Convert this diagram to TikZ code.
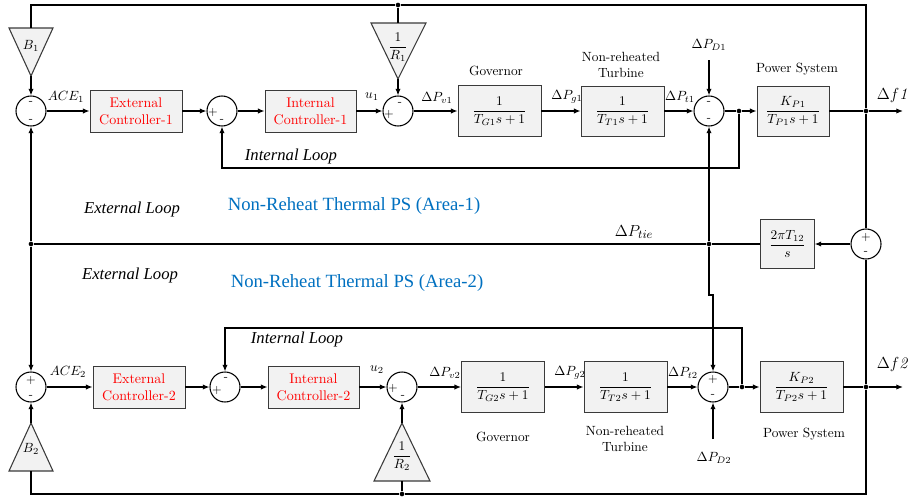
\documentclass[tikz,border=0pt]{standalone}
\usepackage{fontspec}
\newfontfamily\timesfont{Liberation Serif}
\usepackage{tikz}
\usetikzlibrary{arrows.meta,positioning}
\definecolor{lfcblue}{HTML}{0070C0}
\definecolor{lfcred}{HTML}{FF0000}
\definecolor{lfcfill}{HTML}{F2F2F2}
\definecolor{lfcline}{HTML}{3A3A3A}

\begin{document}
\begin{tikzpicture}[
  x=0.75pt,y=-0.75pt,
  blk/.style={draw=lfcline,fill=lfcfill,line width=0.6pt,minimum width=62.25pt,minimum height=38pt,inner sep=1pt},
  ctrl/.style={blk,minimum width=69pt,minimum height=31.5pt,text=lfcred,align=center,font=\fontsize{10.5}{12.5}\selectfont},
  sumj/.style={draw,circle,minimum size=22.5pt,inner sep=0pt,line width=0.8pt},
  sgn/.style={font=\sffamily\small,inner sep=0pt},
  sig/.style={inner sep=1pt},
  captxt/.style={align=center,font=\fontsize{10}{12.5}\selectfont},
  looplab/.style={font=\timesfont\itshape\fontsize{12.5}{14}\selectfont},
  arealab/.style={font=\timesfont\fontsize{14}{16}\selectfont,text=lfcblue},
  wire/.style={line width=0.9pt},
  arrow/.style={wire,-{Latex[length=5pt,width=4pt]}},
  jdot/.style={circle,fill,inner sep=0pt,minimum size=3.5pt},
  tri/.style={draw=lfcline,fill=lfcfill,line width=0.8pt}
]
  \useasboundingbox (0,0) rectangle (909,497);

  % area 1
  \node[sumj] (sum1) at (31,111) {};
  \node[ctrl] (ext1) at (136,111) {External\\Controller-1};
  \node[sumj] (sum2) at (222,111) {};
  \node[ctrl,minimum width=68.25pt] (int1) at (310.5,111) {Internal\\Controller-1};
  \node[sumj] (sum3) at (398,111) {};
  \node[blk] (gov1) at (499.5,111) {$\displaystyle\frac{1}{T_{G1}s+1}$};
  \node[blk,minimum height=37.5pt] (turb1) at (622.5,111) {$\displaystyle\frac{1}{T_{T1}s+1}$};
  \node[sumj] (sum4) at (709,111) {};
  \node[jdot] (j1) at (739,111) {};
  \node[blk,minimum width=54pt,minimum height=37.5pt] (plant1) at (793,111) {$\displaystyle\frac{K_{P1}}{T_{P1}s+1}$};
  \node[jdot] (jf1) at (866,111) {};
  \coordinate (out1) at (903,111);
  \node[jdot] (jtop) at (398,5) {};

  % area 2
  \node[sumj] (sum7) at (31,387) {};
  \node[ctrl] (ext2) at (139,387) {External\\Controller-2};
  \node[sumj] (sum8) at (225,387) {};
  \node[ctrl,minimum width=68.25pt] (int2) at (313.5,387) {Internal\\Controller-2};
  \node[sumj] (sum9) at (402,387) {};
  \node[blk] (gov2) at (503,387) {$\displaystyle\frac{1}{T_{G2}s+1}$};
  \node[blk] (turb2) at (625.5,387) {$\displaystyle\frac{1}{T_{T2}s+1}$};
  \node[sumj] (sum6) at (713,387) {};
  \node[jdot] (j2) at (742,387) {};
  \node[blk] (plant2) at (801.5,387) {$\displaystyle\frac{K_{P2}}{T_{P2}s+1}$};
  \node[jdot] (jf2) at (866,387) {};
  \coordinate (out2) at (903,387);
  \node[jdot] (jbot) at (402,494) {};

  % tie line
  \node[sumj] (sum5) at (866,244) {};
  \node[blk,minimum width=40pt,minimum height=36.75pt] (tie) at (787.5,244) {$\displaystyle\frac{2\pi T_{12}}{s}$};
  \node[jdot] (jt1) at (709,244) {};
  \node[jdot] (jt2) at (31,244) {};

  % gain triangles
  \coordinate (b1base) at (31,28);  \coordinate (b1tip) at (31,76);
  \coordinate (r1base) at (398,23); \coordinate (r1tip) at (398,79);
  \coordinate (b2base) at (31,471); \coordinate (b2tip) at (31,423);
  \coordinate (r2base) at (402,481); \coordinate (r2tip) at (402,423);
  \draw[tri] (9,28) -- (53,28) -- (b1tip) -- cycle;
  \draw[tri] (371,23) -- (426,23) -- (r1tip) -- cycle;
  \draw[tri] (9,471) -- (53,471) -- (b2tip) -- cycle;
  \draw[tri] (374,481) -- (430,481) -- (r2tip) -- cycle;
  \node (b1lab) at (31,46) {$B_1$};
  \node (r1lab) at (398,47) {$\displaystyle\frac{1}{R_1}$};
  \node (b2lab) at (31,449) {$B_2$};
  \node (r2lab) at (402,456) {$\displaystyle\frac{1}{R_2}$};

  % disturbances
  \node (pd1lab) at (709,45) {$\Delta P_{D1}$};
  \coordinate (pd1) at (709,60);
  \node (pd2lab) at (714,458) {$\Delta P_{D2}$};
  \coordinate (pd2) at (713,439);

  % signs
  \node[sgn] at (31,103) {-};   \node[sgn] at (31,121) {-};
  \node[sgn] at (213,112) {+};  \node[sgn] at (222,121) {-};
  \node[sgn] at (389,114) {+};  \node[sgn] at (400,104) {-};
  \node[sgn] at (709,103) {-};  \node[sgn] at (709,120) {-};
  \node[sgn] at (866,237) {+};  \node[sgn] at (866,253) {-};
  \node[sgn] at (31,380) {+};   \node[sgn] at (31,397) {-};
  \node[sgn] at (217,390) {+};  \node[sgn] at (226,379) {-};
  \node[sgn] at (393,388) {+};  \node[sgn] at (403,397) {-};
  \node[sgn] at (713,379) {+};  \node[sgn] at (713,396) {-};

  % signal labels
  \node[sig] at (66,97) {$ACE_1$};
  \node[sig] at (68,372) {$ACE_2$};
  \node[sig] at (372,97) {$u_1$};
  \node[sig] at (377,370) {$u_2$};
  \node[sig] at (437,98) {$\Delta P_{v1}$};
  \node[sig] at (445,373) {$\Delta P_{v2}$};
  \node[sig] at (567,97) {$\Delta P_{g1}$};
  \node[sig] at (570,373) {$\Delta P_{g2}$};
  \node[sig] at (680,97) {$\Delta P_{t1}$};
  \node[sig] at (683,373) {$\Delta P_{t2}$};
  \node[sig,font=\fontsize{13}{15}\selectfont] at (634,232) {$\Delta P_{tie}$};
  \node[sig,font=\large,anchor=east] at (909,95) {$\Delta f\mathit{1}$};
  \node[sig,font=\large,anchor=east] at (909,364) {$\Delta f\mathit{2}$};

  % captions
  \node[captxt] at (496,71) {Governor};
  \node[captxt] at (621,65) {Non-reheated\\Turbine};
  \node[captxt] at (797,69) {Power System};
  \node[captxt] at (503,437) {Governor};
  \node[captxt] at (625,439) {Non-reheated\\Turbine};
  \node[captxt] at (804,434) {Power System};
  \node[looplab] at (291,156) {Internal Loop};
  \node[looplab] at (297,339) {Internal Loop};
  \node[looplab] at (132,209) {External Loop};
  \node[looplab] at (130,275) {External Loop};
  \node[arealab] at (354,206) {Non-Reheat Thermal PS (Area-1)};
  \node[arealab] at (357,283) {Non-Reheat Thermal PS (Area-2)};

  % connections area 1
  \draw[wire] (b1base) |- (jtop) -| (jf1);
  \draw[wire] (jtop) -- (r1base);
  \draw[arrow] (b1tip) -- (sum1);
  \draw[arrow] (r1tip) -- (sum3);
  \draw[arrow] (sum1) -- (ext1);
  \draw[arrow] (ext1) -- (sum2);
  \draw[arrow] (sum2) -- (int1);
  \draw[arrow] (int1) -- (sum3);
  \draw[arrow] (sum3) -- (gov1);
  \draw[arrow] (gov1) -- (turb1);
  \draw[arrow] (turb1) -- (sum4);
  \draw[arrow] (pd1) -- (sum4);
  \draw[wire] (sum4) -- (j1);
  \draw[arrow] (j1) -- (plant1);
  \draw[arrow] (j1) -- ++(0,57) -| (sum2.south);
  \draw[wire] (plant1) -- (jf1);
  \draw[arrow] (jf1) -- (out1);

  % connections area 2
  \draw[wire] (b2base) |- (jbot) -| (jf2);
  \draw[wire] (jbot) -- (r2base);
  \draw[arrow] (b2tip) -- (sum7);
  \draw[arrow] (r2tip) -- (sum9);
  \draw[arrow] (sum7) -- (ext2);
  \draw[arrow] (ext2) -- (sum8);
  \draw[arrow] (sum8) -- (int2);
  \draw[arrow] (int2) -- (sum9);
  \draw[arrow] (sum9) -- (gov2);
  \draw[arrow] (gov2) -- (turb2);
  \draw[arrow] (turb2) -- (sum6);
  \draw[arrow] (pd2) -- (sum6);
  \draw[wire] (sum6) -- (j2);
  \draw[arrow] (j2) -- (plant2);
  \draw[arrow] (j2) -- ++(0,-59) -| (sum8.north);
  \draw[wire] (plant2) -- (jf2);
  \draw[arrow] (jf2) -- (out2);

  % tie line
  \draw[wire] (jf1) -- (sum5);
  \draw[wire] (jf2) -- (sum5);
  \draw[arrow] (sum5) -- (tie);
  \draw[wire] (tie) -- (jt1);
  \draw[wire] (jt1) -- (jt2);
  \draw[arrow] (jt2) -- (sum1);
  \draw[arrow] (jt2) -- (sum7);
  \draw[arrow] (jt1) -- (sum4);
  \draw[arrow] (jt1) -- ++(0,51) -| (sum6.north);
\end{tikzpicture}
\end{document}
